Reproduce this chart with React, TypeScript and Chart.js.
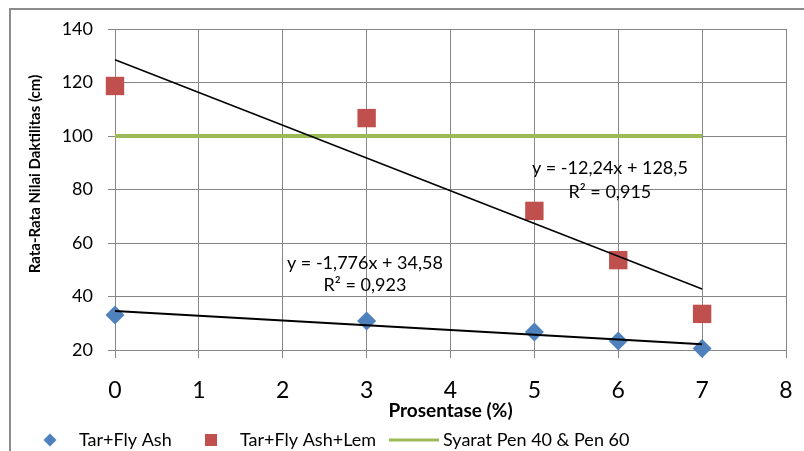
import React, { useEffect, useRef } from "react";
import { Chart, registerables } from "chart.js";

Chart.register(...registerables);

const xValues = [0, 3, 5, 6, 7];
const tarFlyAsh = [33.1, 30.8, 26.7, 23.4, 20.6];
const tarFlyAshLem = [118.7, 106.7, 72.0, 53.6, 33.5];
const syaratX = [0, 7];
const syaratY = [100, 100];
// trendline coefficients as shown on the chart
const trendLem = { slope: -12.24, intercept: 128.5 };
const trendAsh = { slope: -1.776, intercept: 34.58 };
const trendX = [0, 7];

const seriesLabels = ["Tar+Fly Ash", "Tar+Fly Ash+Lem", "Syarat Pen 40 & Pen 60"];
const xTitle = "Prosentase (%)";
const yTitle = "Rata-Rata Nilai Daktilitas (cm)";
const annotations = [
  { text: "y = -12,24x + 128,5", x: 5.9, y: 88.0 },
  { text: "R² = 0,915", x: 5.9, y: 79.1 },
  { text: "y = -1,776x + 34,58", x: 2.98, y: 52.5 },
  { text: "R² = 0,923", x: 2.98, y: 44.3 },
];

const FONT = "Lato, 'Open Sans', sans-serif";
const BLUE = "#4F81BD";
const RED = "#C0504D";
const GREEN = "#9BBB59";
const GRID = "#868686";

export default function App() {
  const ref = useRef<HTMLCanvasElement>(null);

  useEffect(() => {
    document.body.style.margin = "0";
    const canvas = ref.current!;
    const pts = (ys: number[], xs: number[]) => xs.map((x, i) => ({ x, y: ys[i] }));
    const trend = (t: { slope: number; intercept: number }) =>
      trendX.map((x) => ({ x, y: t.slope * x + t.intercept }));

    const framePlugin = {
      id: "frame",
      beforeDraw(chart: any) {
        const c = chart.ctx;
        c.save();
        c.fillStyle = "#fff";
        c.fillRect(0, 0, chart.width, chart.height);
        c.strokeStyle = "#8c8c8c";
        c.lineWidth = 2;
        c.beginPath();
        c.moveTo(10, chart.height + 5);
        c.lineTo(10, 9);
        c.lineTo(chart.width + 5, 9);
        c.stroke();
        c.restore();
      },
      afterDraw(chart: any) {
        const c = chart.ctx;
        const xs = chart.scales.x;
        const ys = chart.scales.y;
        c.save();
        c.fillStyle = "#000";
        c.font = `18px ${FONT}`;
        c.textAlign = "center";
        c.textBaseline = "middle";
        annotations.forEach((a) => {
          c.fillText(a.text, xs.getPixelForValue(a.x), ys.getPixelForValue(a.y));
        });
        // y axis title
        c.save();
        c.translate(35, 174);
        c.rotate(-Math.PI / 2);
        c.font = `bold 15px ${FONT}`;
        c.fillText(yTitle, 0, 0);
        c.restore();
        // legend
        const ly = 440;
        c.textAlign = "left";
        c.font = `18px ${FONT}`;
        c.fillStyle = BLUE;
        c.beginPath();
        c.moveTo(50, ly - 6.5);
        c.lineTo(56.5, ly);
        c.lineTo(50, ly + 6.5);
        c.lineTo(43.5, ly);
        c.closePath();
        c.fill();
        c.fillStyle = "#000";
        c.fillText(seriesLabels[0], 79, ly);
        c.fillStyle = RED;
        c.fillRect(205, ly - 6, 12, 12);
        c.fillStyle = "#000";
        c.fillText(seriesLabels[1], 240, ly);
        c.strokeStyle = GREEN;
        c.lineWidth = 3;
        c.beginPath();
        c.moveTo(389, ly);
        c.lineTo(439, ly);
        c.stroke();
        c.fillText(seriesLabels[2], 443, ly);
        c.restore();
      },
    };

    const chart = new Chart(canvas, {
      type: "scatter",
      data: {
        datasets: [
          {
            label: "Trend Lem",
            data: trend(trendLem),
            showLine: true,
            borderColor: "#000",
            borderWidth: 1.5,
            pointRadius: 0,
            clip: false,
            order: 1,
          },
          {
            label: "Trend Ash",
            data: trend(trendAsh),
            showLine: true,
            borderColor: "#000",
            borderWidth: 2.2,
            pointRadius: 0,
            clip: false,
            order: 1,
          },
          {
            label: seriesLabels[2],
            data: pts(syaratY, syaratX),
            showLine: true,
            borderColor: GREEN,
            borderWidth: 4,
            pointRadius: 0,
            clip: false,
            order: 3,
          },
          {
            label: seriesLabels[0],
            data: pts(tarFlyAsh, xValues),
            pointStyle: "rectRot",
            pointRadius: 9.5,
            backgroundColor: BLUE,
            borderColor: BLUE,
            borderWidth: 0,
            clip: false,
            order: 2,
          },
          {
            label: seriesLabels[1],
            data: pts(tarFlyAshLem, xValues),
            pointStyle: "rect",
            pointRadius: 13,
            backgroundColor: RED,
            borderColor: RED,
            borderWidth: 0,
            clip: false,
            order: 2,
          },
        ],
      },
      options: {
        responsive: false,
        animation: false,
        layout: { padding: { left: 0, top: 29, right: 18, bottom: 0 } },
        plugins: { legend: { display: false }, tooltip: { enabled: false } },
        scales: {
          x: {
            type: "linear",
            min: 0,
            max: 8,
            ticks: { stepSize: 1, color: "#000", font: { family: FONT, size: 23 }, padding: 19 },
            grid: { color: GRID, lineWidth: 1, tickLength: 8, tickColor: GRID },
            border: { color: GRID, width: 1 },
            title: {
              display: true,
              text: xTitle,
              color: "#000",
              font: { family: FONT, size: 19, weight: "bold" },
              padding: { top: 28.6, bottom: 28.6 },
            },
            afterFit(scale: any) {
              scale.height = 101;
              scale.paddingLeft = 0;
              scale.paddingRight = 0;
            },
          },
          y: {
            min: 20,
            max: 140,
            ticks: { stepSize: 20, color: "#000", font: { family: FONT, size: 18 }, padding: 15 },
            grid: { color: GRID, lineWidth: 1, tickLength: 7, tickColor: GRID },
            border: { color: GRID, width: 1 },
            afterFit(scale: any) {
              scale.width = 115;
              scale.paddingTop = 0;
              scale.paddingBottom = 0;
            },
          },
        },
      },
      plugins: [framePlugin],
    } as any);
    return () => chart.destroy();
  }, []);

  return (
    <div style={{ width: 804, height: 451 }}>
      <canvas ref={ref} width={804} height={451} style={{ display: "block" }} />
    </div>
  );
}
